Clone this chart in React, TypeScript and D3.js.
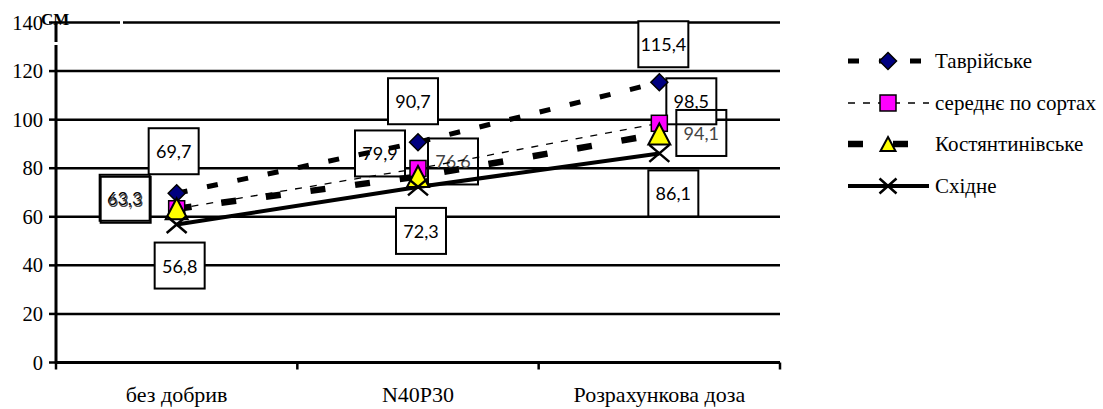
import React from "react";
import * as d3 from "d3";

const categories = ["без добрив", "N40P30", "Розрахункова доза"];
const seriesNames = ["Таврійське", "середнє по сортах", "Костянтинівське", "Східне"];
const tavriyske = [69.7, 90.7, 115.4];
const serednie = [63.3, 79.9, 98.5];
const kostyantynivske = [63.3, 76.6, 94.1];
const skhidne = [56.8, 72.3, 86.1];
const yTicks = [0, 20, 40, 60, 80, 100, 120, 140];
const yTitle = "СМ";

// data label box offsets (dx, dy) relative to the point, per series
const offTavr = [[-3, -42], [-5, -41], [4, -38]];
const offSer = [[-52, -11], [-38, -15], [32, -22]];
const offKost = [[-51, -9], [35, -15], [42, -1]];
const offSkh = [[3, 41], [3, 44], [14, 40]];

const W = 1103;
const H = 409;

type Marker = "diamond" | "square" | "triangle" | "x";

function MarkerShape({ kind, cx, cy, small }: { kind: Marker; cx: number; cy: number; small?: boolean }) {
  if (kind === "diamond") {
    const r = 8.5;
    return (
      <path
        d={`M${cx},${cy - r}L${cx + r},${cy}L${cx},${cy + r}L${cx - r},${cy}Z`}
        fill="#000080"
        stroke="#000"
        strokeWidth={1.5}
      />
    );
  }
  if (kind === "square") {
    const s = 16;
    return <rect x={cx - s / 2} y={cy - s / 2} width={s} height={s} fill="#FF00FF" stroke="#000" strokeWidth={1.5} />;
  }
  if (kind === "triangle") {
    const hw = small ? 7.5 : 11;
    const hh = small ? 7 : 10.5;
    return (
      <path
        d={`M${cx},${cy - hh}L${cx + hw},${cy + hh}L${cx - hw},${cy + hh}Z`}
        fill="#FFFF00"
        stroke="#000"
        strokeWidth={2}
      />
    );
  }
  const hw = small ? 8.5 : 10;
  const hh = small ? 7.5 : 8.5;
  return (
    <path
      d={`M${cx - hw},${cy - hh}L${cx + hw},${cy + hh}M${cx - hw},${cy + hh}L${cx + hw},${cy - hh}`}
      stroke="#000"
      strokeWidth={2.5}
      fill="none"
    />
  );
}

export default function App() {
  const x = d3.scaleBand<string>().domain(categories).range([56, 780]);
  const cx = (c: string) => (x(c) as number) + x.bandwidth() / 2;
  const y = d3.scaleLinear().domain([0, 140]).range([362.5, 22.5]);

  const series = [
    { name: seriesNames[0], values: tavriyske, offs: offTavr, marker: "diamond" as Marker, width: 5, dash: "11 20", opaque: true },
    { name: seriesNames[1], values: serednie, offs: offSer, marker: "square" as Marker, width: 1.3, dash: "7 8", opaque: true },
    { name: seriesNames[2], values: kostyantynivske, offs: offKost, marker: "triangle" as Marker, width: 6.5, dash: "15 30", opaque: false },
    { name: seriesNames[3], values: skhidne, offs: offSkh, marker: "x" as Marker, width: 4, dash: "", opaque: true },
  ];

  const line = d3
    .line<number>()
    .x((_, i) => cx(categories[i]))
    .y((d) => y(d));

  const fmt = (v: number) => v.toFixed(1).replace(".", ",");
  const boxW = 50;
  const boxH = 46;

  const renderLabels = (s: (typeof series)[number], key: string) =>
    s.values.map((v, i) => {
      const px = cx(categories[i]) + s.offs[i][0];
      const py = y(v) + s.offs[i][1];
      return (
        <g key={`${key}-${i}`}>
          <rect
            x={px - boxW / 2}
            y={py - boxH / 2}
            width={boxW}
            height={boxH}
            fill={s.opaque ? "#fff" : "none"}
            stroke="#000"
            strokeWidth={2}
          />
          <text x={px} y={py + 7} textAnchor="middle" fontFamily="Lato" fontSize={18} fill={s.opaque ? "#000" : "#444"}>
            {fmt(v)}
          </text>
        </g>
      );
    });

  const legendX0 = 848;
  const legendX1 = 929;
  const legendMid = 888;
  const legendRows = [61, 103, 144, 186];

  return (
    <div style={{ position: "absolute", left: 0, top: 0, width: W, height: H, fontFamily: "'Liberation Serif'" }}>
      <svg width={W} height={H} fontFamily="Liberation Serif" style={{ display: "block", background: "#fff" }}>
        <rect x={0} y={0} width={W} height={H} fill="#fff" />
        {yTicks.map((t) => (
          <line key={`g${t}`} x1={56} x2={780} y1={y(t)} y2={y(t)} stroke="#000" strokeWidth={t === 0 ? 3 : 2.5} />
        ))}
        <line x1={56} x2={56} y1={y(140) - 1} y2={y(0) + 1} stroke="#000" strokeWidth={3} />
        {yTicks.map((t) => (
          <g key={`t${t}`}>
            <line x1={49} x2={56} y1={y(t)} y2={y(t)} stroke="#000" strokeWidth={2.5} />
            <text x={43} y={y(t) + 7} textAnchor="end" fontSize={20.5} fill="#000">
              {t}
            </text>
          </g>
        ))}
        <rect x={120} y={y(140) - 2} width={3} height={4} fill="#fff" />
        <rect x={53} y={42} width={6} height={3} fill="#fff" />
        <text x={41} y={25} fontSize={17} fontWeight="bold" fill="#000">
          {yTitle}
        </text>
        {[...categories.map((c) => x(c) as number), 780].map((p, i) => (
          <line key={`xt${i}`} x1={p} x2={p} y1={y(0)} y2={y(0) + 7} stroke="#000" strokeWidth={2.5} />
        ))}
        {categories.map((c) => (
          <text key={c} x={cx(c)} y={402} textAnchor="middle" fontSize={22} fill="#000">
            {c}
          </text>
        ))}

        {series.filter((s) => s.opaque).map((s) => renderLabels(s, s.name))}
        {series.filter((s) => !s.opaque).map((s) => renderLabels(s, s.name))}

        {series.map((s) => (
          <path
            key={`l${s.name}`}
            d={line(s.values) as string}
            fill="none"
            stroke="#000"
            strokeWidth={s.width}
            strokeDasharray={s.dash || undefined}
          />
        ))}
        {series.map((s) =>
          s.values.map((v, i) => <MarkerShape key={`m${s.name}${i}`} kind={s.marker} cx={cx(categories[i])} cy={y(v)} />)
        )}

        {series.map((s, i) => (
          <g key={`lg${s.name}`}>
            <line
              x1={legendX0}
              x2={legendX1}
              y1={legendRows[i]}
              y2={legendRows[i]}
              stroke="#000"
              strokeWidth={s.width}
              strokeDasharray={s.dash || undefined}
            />
            <MarkerShape kind={s.marker} cx={legendMid} cy={legendRows[i]} small />
            <text x={935} y={legendRows[i] + 7} fontSize={21} fill="#000">
              {s.name}
            </text>
          </g>
        ))}
      </svg>
    </div>
  );
}
